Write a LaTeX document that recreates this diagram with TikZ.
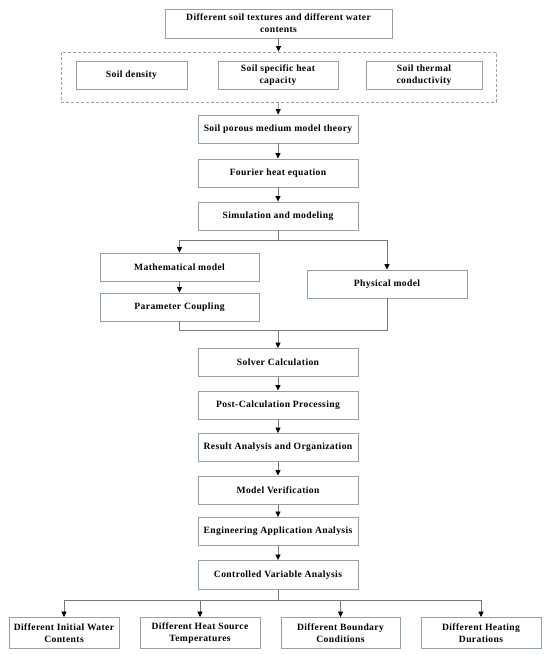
\documentclass[tikz,border=0pt]{standalone}
\usepackage{fontspec}
\setmainfont{Liberation Serif}[LetterSpace=4]
\usetikzlibrary{arrows.meta}
\definecolor{boxc}{RGB}{140,168,152}
\definecolor{linec}{RGB}{120,120,120}
\definecolor{dashc}{RGB}{150,165,158}
\begin{document}
\begin{tikzpicture}[x=1pt,y=-1pt,
  box/.style={draw=boxc, line width=0.9pt, fill=white, align=center, inner sep=0pt,
    font=\bfseries\fontsize{9.6}{11.8}\selectfont, minimum height=28pt},
  dashbox/.style={draw=dashc, line width=0.9pt, dash pattern=on 3pt off 2pt, inner sep=0pt},
  conn/.style={draw=linec, line width=0.8pt},
  arr/.style={conn, -{Triangle[length=5.5pt,width=5pt,color=black]}}]
\useasboundingbox (0,0) rectangle (550,655);
\fill[white] (0,0) rectangle (550,655);

\node[dashbox, minimum width=435pt, minimum height=50pt] (grp) at (278.5,77) {};
\node[box, minimum width=227pt, minimum height=29pt] (top) at (278.5,23.5) {Different soil textures and different water\\contents};
\node[box, minimum width=111pt] (den) at (131.5,75.5) {Soil density};
\node[box, minimum width=120pt] (shc) at (278,75.5) {Soil specific heat\\capacity};
\node[box, minimum width=116pt] (stc) at (424,75.5) {Soil thermal\\conductivity};

\node[box, minimum width=160pt] (por) at (278,129) {Soil porous medium model theory};
\node[box, minimum width=160pt] (fou) at (278,173) {Fourier heat equation};
\node[box, minimum width=160pt] (sim) at (278,216) {Simulation and modeling};

\node[box, minimum width=159pt] (mat) at (179.5,267) {Mathematical model};
\node[box, minimum width=159pt] (par) at (179.5,307) {Parameter Coupling};
\node[box, minimum width=160pt] (phy) at (387,284) {Physical model};

\node[box, minimum width=160pt] (sol) at (278,362.5) {Solver Calculation};
\node[box, minimum width=160pt] (post) at (278,405) {Post-Calculation Processing};
\node[box, minimum width=160pt] (res) at (278,447.5) {Result Analysis and Organization};
\node[box, minimum width=160pt] (mv) at (278,490) {Model Verification};
\node[box, minimum width=160pt] (eng) at (278,531.5) {Engineering Application Analysis};
\node[box, minimum width=160pt, minimum height=29pt] (cv) at (278,575) {Controlled Variable Analysis};

\node[box, minimum width=110pt, minimum height=31pt] (b1) at (64,633) {Different Initial Water\\Contents};
\node[box, minimum width=120pt, minimum height=31pt] (b2) at (200,633) {Different Heat Source\\Temperatures};
\node[box, minimum width=119pt, minimum height=31pt] (b3) at (340.5,633) {Different Boundary\\Conditions};
\node[box, minimum width=120pt, minimum height=31pt] (b4) at (481,633) {Different Heating\\Durations};

\draw[arr] (top) -- (grp);
\draw[arr] (grp) -- (por);
\draw[arr] (por) -- (fou);
\draw[arr] (fou) -- (sim);

\coordinate (br) at (278,240);
\draw[conn] (sim) -- (br);
\draw[arr] (br) -| (mat);
\draw[arr] (br) -| (phy);
\draw[arr] (mat) -- (par);

\coordinate (mg) at (278,330);
\draw[conn] (par) |- (mg);
\draw[conn] (phy) |- (mg);
\draw[arr] (mg) -- (sol);

\draw[arr] (sol) -- (post);
\draw[arr] (post) -- (res);
\draw[arr] (res) -- (mv);
\draw[arr] (mv) -- (eng);
\draw[arr] (eng) -- (cv);

\coordinate (bb) at (278,600);
\draw[conn] (cv) -- (bb);
\draw[arr] (bb) -| (b1);
\draw[arr] (bb) -| (b2);
\draw[arr] (bb) -| (b3);
\draw[arr] (bb) -| (b4);
\end{tikzpicture}
\end{document}
